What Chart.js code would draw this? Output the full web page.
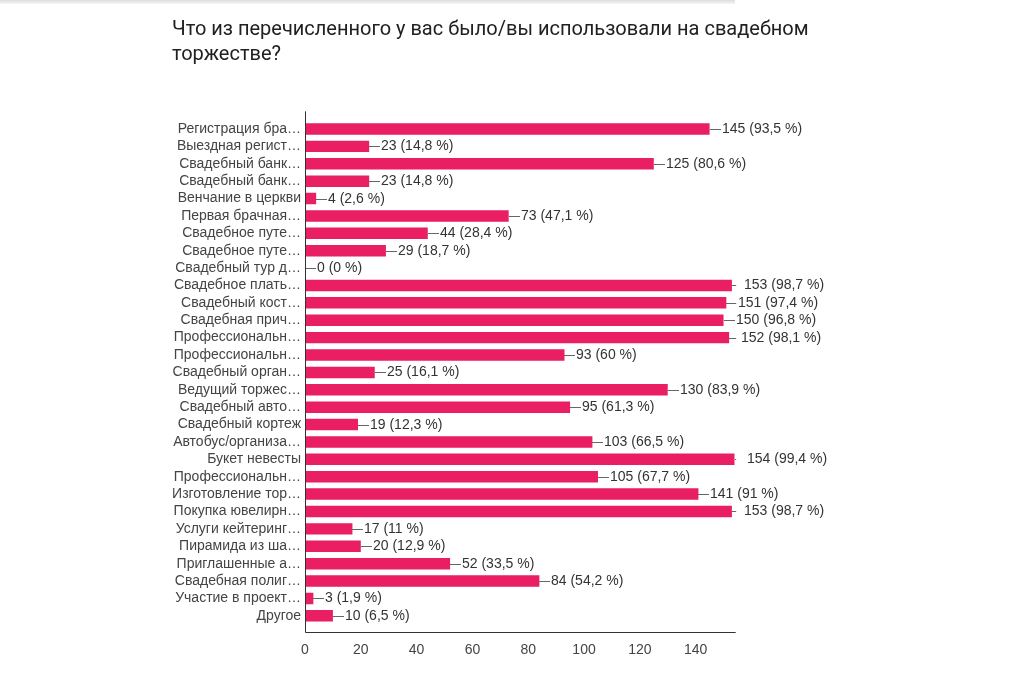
<!DOCTYPE html>
<html>
<head>
<meta charset="utf-8">
<script src="https://cdn.jsdelivr.net/npm/chart.js@4/dist/chart.umd.min.js"></script>
<style>
  html, body { margin: 0; padding: 0; background: #fff; }
  #wrap { position: relative; width: 1024px; height: 697px; overflow: hidden; }
  #topbar { position: absolute; left: 0; top: 0; width: 735px; height: 4px; background: linear-gradient(#dcdcdc, #f6f6f6); }
  #title { position: absolute; left: 172px; top: 16px; font-family: Roboto, sans-serif; font-size: 20px; line-height: 25px; color: #212121; white-space: nowrap; }
  canvas { position: absolute; left: 0; top: 0; }
</style>
</head>
<body>
<div id="wrap">
  <canvas id="c" width="1024" height="697"></canvas>
  <div id="topbar"></div>
  <div id="title">Что из перечисленного у вас было/вы использовали на свадебном<br>торжестве?</div>
</div>
<script>
const categories = [
  "Регистрация бра…",
  "Выездная регист…",
  "Свадебный банк…",
  "Свадебный банк…",
  "Венчание в церкви",
  "Первая брачная…",
  "Свадебное путе…",
  "Свадебное путе…",
  "Свадебный тур д…",
  "Свадебное плать…",
  "Свадебный кост…",
  "Свадебная прич…",
  "Профессиональн…",
  "Профессиональн…",
  "Свадебный орган…",
  "Ведущий торжес…",
  "Свадебный авто…",
  "Свадебный кортеж",
  "Автобус/организа…",
  "Букет невесты",
  "Профессиональн…",
  "Изготовление тор…",
  "Покупка ювелирн…",
  "Услуги кейтеринг…",
  "Пирамида из ша…",
  "Приглашенные а…",
  "Свадебная полиг…",
  "Участие в проект…",
  "Другое"
];
const counts = [145, 23, 125, 23, 4, 73, 44, 29, 0, 153, 151, 150, 152, 93, 25, 130, 95, 19, 103, 154, 105, 141, 153, 17, 20, 52, 84, 3, 10];
const percents = ["93,5", "14,8", "80,6", "14,8", "2,6", "47,1", "28,4", "18,7", "0", "98,7", "97,4", "96,8", "98,1", "60", "16,1", "83,9", "61,3", "12,3", "66,5", "99,4", "67,7", "91", "98,7", "11", "12,9", "33,5", "54,2", "1,9", "6,5"];
const xTicks = [0, 20, 40, 60, 80, 100, 120, 140];

const FONT = "'Liberation Sans', Arial, sans-serif";

const axisLines = {
  id: 'axisLines',
  afterDraw(chart) {
    const ctx = chart.ctx, a = chart.chartArea;
    ctx.save();
    ctx.strokeStyle = '#333';
    ctx.lineWidth = 1;
    ctx.beginPath();
    ctx.moveTo(a.left + 0.5, a.top - 9);
    ctx.lineTo(a.left + 0.5, a.bottom + 8);
    ctx.lineTo(a.right + 1, a.bottom + 8);
    ctx.stroke();
    ctx.restore();
  }
};

const valueLabels = {
  id: 'valueLabels',
  afterDatasetsDraw(chart) {
    const ctx = chart.ctx;
    const meta = chart.getDatasetMeta(0);
    const limit = chart.chartArea.right + 1.5;
    ctx.save();
    ctx.font = '14px ' + FONT;
    ctx.textBaseline = 'middle';
    ctx.textAlign = 'left';
    meta.data.forEach((bar, i) => {
      const x = Math.round(bar.x), y = Math.round(bar.y) + 0.5;
      const end = Math.min(x + 11, limit);
      if (end > x) {
        ctx.strokeStyle = '#666';
        ctx.lineWidth = 1;
        ctx.beginPath();
        ctx.moveTo(x, y);
        ctx.lineTo(end, y);
        ctx.stroke();
      }
      ctx.fillStyle = '#333';
      ctx.fillText(counts[i] + ' (' + percents[i] + ' %)', x + 12, y);
    });
    ctx.restore();
  }
};

new Chart(document.getElementById('c'), {
  type: 'bar',
  data: {
    labels: categories,
    datasets: [{
      data: counts,
      backgroundColor: '#e91e63',
      borderWidth: 0,
      barPercentage: 0.66,
      categoryPercentage: 1.0
    }]
  },
  options: {
    indexAxis: 'y',
    responsive: false,
    animation: false,
    devicePixelRatio: 1,
    layout: { padding: { top: 120.3, left: 0, right: 289.3, bottom: 0 } },
    plugins: { legend: { display: false }, tooltip: { enabled: false }, title: { display: false } },
    scales: {
      x: {
        min: 0,
        max: 154,
        grid: { display: false, drawTicks: false },
        border: { display: false },
        ticks: { stepSize: 20, color: '#444', font: { family: FONT, size: 14 }, padding: 17, maxRotation: 0 },
        afterBuildTicks(scale) { scale.ticks = xTicks.map(v => ({ value: v })); },
        afterFit(scale) { scale.height = 72.5; }
      },
      y: {
        grid: { display: false, drawTicks: false },
        border: { display: false },
        ticks: { color: '#444', font: { family: FONT, size: 14 }, padding: 4, autoSkip: false },
        afterFit(scale) { scale.width = 305; }
      }
    }
  },
  plugins: [axisLines, valueLabels]
});
</script>
</body>
</html>
